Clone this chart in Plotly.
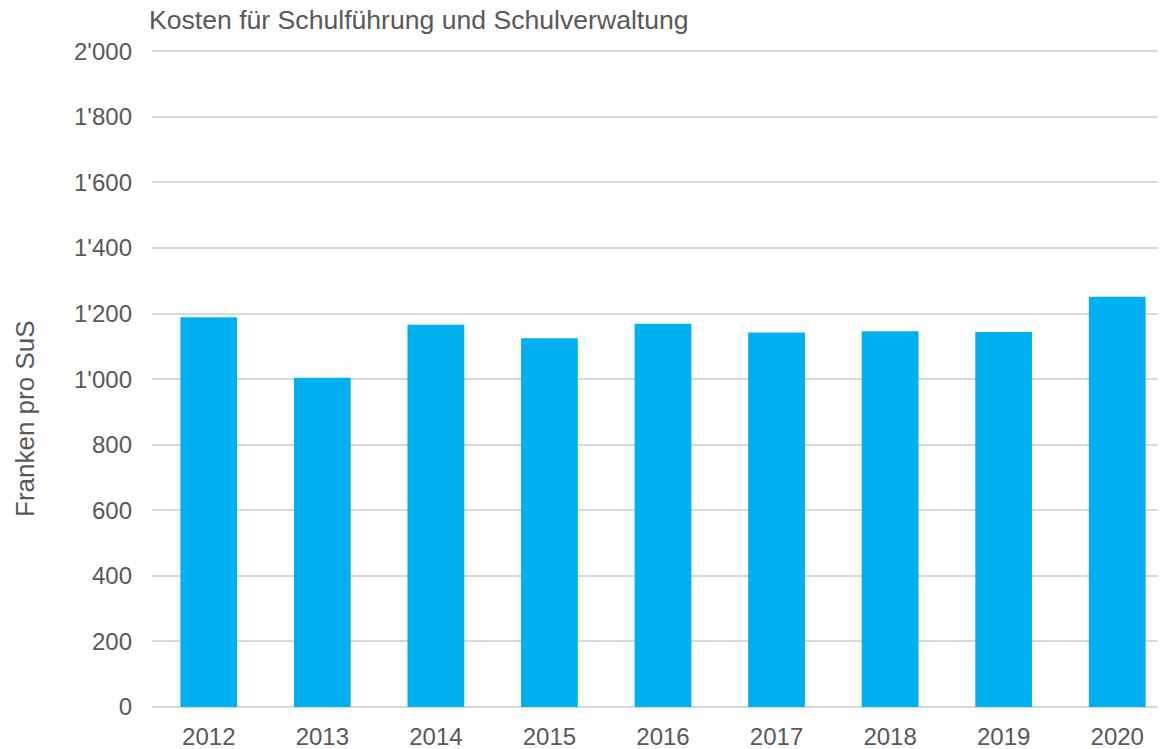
import plotly.graph_objects as go

years = ["2012", "2013", "2014", "2015", "2016", "2017", "2018", "2019", "2020"]
kosten = [1189, 1004, 1166, 1125, 1169, 1142, 1146, 1144, 1251]
y_tick_vals = [0, 200, 400, 600, 800, 1000, 1200, 1400, 1600, 1800, 2000]
y_tick_text = ["0", "200", "400", "600", "800", "1'000", "1'200", "1'400", "1'600", "1'800", "2'000"]

FONT = "Liberation Sans, Arial, sans-serif"
GREY = "#595959"

# page body has an 8px margin; figure coordinates are page coordinates minus 8
L, R, T, B = 144, 0, 40, 50
PW = 1166 - L - R
PH = 749 - T - B

fig = go.Figure()
fig.add_trace(go.Bar(x=years, y=kosten, marker=dict(color="#00B0F0", line=dict(width=0))))

fig.update_layout(
    width=1166, height=749,
    margin=dict(l=L, r=R, t=T, b=B),
    paper_bgcolor="white", plot_bgcolor="white",
    bargap=0.5,
    showlegend=False,
    font=dict(family=FONT, size=24, color=GREY),
    title=dict(text="Kosten für Schulführung und Schulverwaltung",
               xref="container", x=141/1166, xanchor="left",
               yref="container", y=1-12/749, yanchor="middle",
               font=dict(family=FONT, size=26.6, color=GREY)),
)
fig.update_xaxes(showgrid=False, showline=False, ticks="", ticklabelstandoff=13,
                 tickfont=dict(size=24, color=GREY))
fig.update_yaxes(range=[0, 2010], tickvals=y_tick_vals, ticktext=y_tick_text,
                 showgrid=True, gridcolor="#d9d9d9", gridwidth=1.5,
                 zeroline=True, zerolinecolor="#d9d9d9", zerolinewidth=1.5,
                 showline=False, ticks="", ticklabelstandoff=19,
                 tickfont=dict(size=24, color=GREY))
fig.add_annotation(text="Franken pro SuS", textangle=-90,
                   xref="paper", x=(17-L)/PW, xanchor="center",
                   yref="paper", y=(699-411)/PH, yanchor="middle",
                   showarrow=False, font=dict(family=FONT, size=26, color=GREY))

fig.write_html("out.html")
